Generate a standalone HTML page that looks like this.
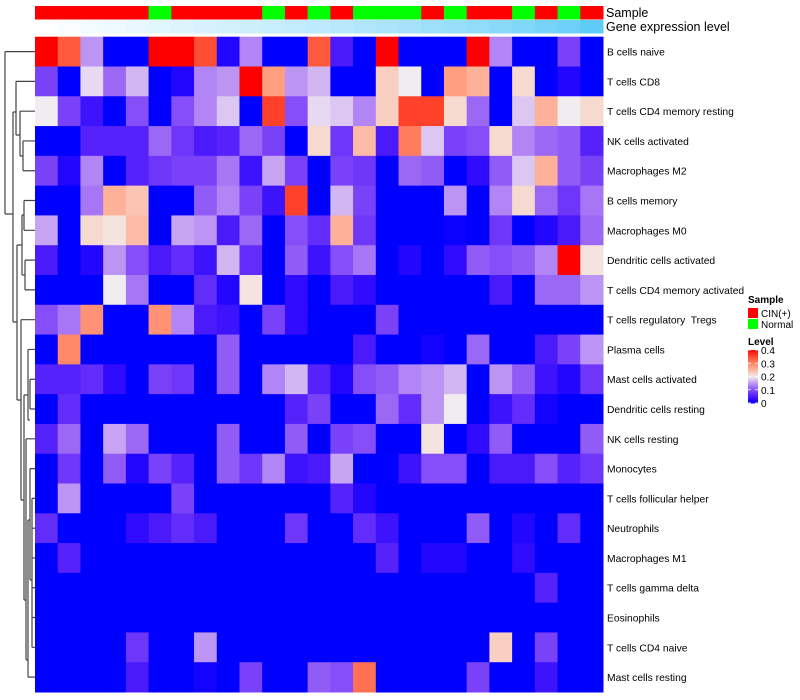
<!DOCTYPE html>
<html><head><meta charset="utf-8"><style>
html,body{margin:0;padding:0;background:#fff;width:800px;height:700px;overflow:hidden}
svg{display:block;font-family:"Liberation Sans",sans-serif}
text{white-space:pre}
</style></head><body>
<svg id="chart" width="800" height="700"></svg>
<script>
const rowLabels=["B cells naive","T cells CD8","T cells CD4 memory resting","NK cells activated","Macrophages M2","B cells memory","Macrophages M0","Dendritic cells activated","T cells CD4 memory activated","T cells regulatory  Tregs","Plasma cells","Mast cells activated","Dendritic cells resting","NK cells resting","Monocytes","T cells follicular helper","Neutrophils","Macrophages M1","T cells gamma delta","Eosinophils","T cells CD4 naive","Mast cells resting"];
const samples=["C","C","C","C","C","N","C","C","C","C","N","C","N","C","N","N","N","C","N","C","C","N","C","N","C"];
const exprLevel=[0.0,0.03,0.07,0.1,0.13,0.16,0.19,0.22,0.25,0.28,0.31,0.34,0.37,0.4,0.43,0.47,0.5,0.54,0.58,0.62,0.66,0.71,0.76,0.82,0.9];
const legendTicks=[0,0.1,0.2,0.3,0.4];
const r1=[.4,.34,.15,0,0,.4,.4,.35,.02,.14,0,0,.34,.05,0,.4,0,0,0,.4,.14,0,0,.09,0];
const r2=[.09,0,.19,.12,.17,0,.02,.14,.15,.4,.28,.15,.17,0,0,.23,.2,0,.28,.26,0,.22,0,.02,0];
const r3=[.2,.09,.04,0,.1,0,.1,.14,.18,0,.36,.1,.19,.18,.14,.23,.36,.36,.22,.12,0,.18,.26,.2,.22];
const r4=[0,0,.06,.06,.06,.12,.08,.05,.06,.12,.09,0,.22,.08,.25,.05,.31,.18,.09,.1,.22,.14,.12,.11,.06];
const r5=[.09,.02,.14,0,.06,.08,.09,.09,.13,.04,.16,.09,0,.09,.08,0,.12,.11,0,.03,.11,.18,.26,.11,.09];
const r6=[0,0,.13,.26,.24,0,0,.11,.14,.09,.04,.36,0,.17,.09,0,0,0,.15,0,.14,.22,.12,.08,.13];
const r7=[.16,0,.22,.21,.25,0,.16,.15,.05,.12,0,.1,.07,.26,.08,0,0,0,.005,0,.08,0,.02,.05,.12];
const r8=[.05,0,.02,.15,.1,.05,.07,.04,.17,.07,0,.11,.04,.1,.13,0,.02,0,.03,.11,.1,.11,.14,.4,.21];
const r9=[0,0,0,.2,.13,0,0,.07,.02,.21,0,.03,0,.05,.03,0,0,0,0,0,.05,0,.12,.12,.15];
const r10=[.1,.13,.29,0,0,.29,.14,.05,.04,0,.09,.03,0,0,0,.09,0,0,0,0,0,0,0,0,0];
const r11=[0,.3,0,0,0,0,0,0,.11,0,0,0,0,0,.05,0,0,.01,0,.12,0,0,.05,.09,.15];
const r12=[.06,.06,.07,.03,0,.09,.08,0,.11,0,.14,.17,.06,.02,.1,.11,.14,.15,.17,0,.15,.11,.04,.02,.08];
const r13=[0,.07,0,0,0,0,0,0,0,0,0,.06,.09,0,0,.12,.07,.15,.2,0,.04,.07,.01,0,0];
const r14=[.06,.12,0,.16,.12,0,0,0,.11,0,0,.11,0,.09,.1,0,0,.21,0,.03,.11,0,0,0,.11];
const r15=[0,.08,0,.11,.02,.09,.06,0,.11,.08,.14,.04,.05,.16,0,0,.04,.1,.1,0,.05,.05,.1,.06,.08];
const r16=[0,.15,0,0,0,0,.09,0,0,0,0,0,0,.06,.02,0,0,0,0,0,0,0,0,0,0];
const r17=[.07,0,0,0,.03,.05,.07,.05,0,0,0,.08,0,0,.07,.04,0,0,0,.11,0,.02,0,.07,0];
const r18=[0,.06,0,0,0,0,0,0,0,0,0,0,0,0,0,.06,0,.02,.02,0,0,.03,0,0,0];
const r19=[0,0,0,0,0,0,0,0,0,0,0,0,0,0,0,0,0,0,0,0,0,0,.06,0,0];
const r20=[0,0,0,0,0,0,0,0,0,0,0,0,0,0,0,0,0,0,0,0,0,0,0,0,0];
const r21=[0,0,0,0,.08,0,0,.15,0,0,0,0,0,0,0,0,0,0,0,0,.23,0,.09,0,0];
const r22=[0,0,0,0,.05,0,0,.01,0,.09,0,0,.11,.1,.32,0,0,0,0,.09,0,0,.04,0,0];
const values=[r1,r2,r3,r4,r5,r6,r7,r8,r9,r10,r11,r12,r13,r14,r15,r16,r17,r18,r19,r20,r21,r22];

const NS="http://www.w3.org/2000/svg";
const svg=document.getElementById('chart');
const X0=35,X1=603,Y0=36.7,Y1=692;
const nC=samples.length,nR=rowLabels.length;
const cw=(X1-X0)/nC,rh=(Y1-Y0)/nR;
const xPos=i=>X0+i*cw, yPos=j=>Y0+j*rh;
function el(t,a){const e=document.createElementNS(NS,t);for(const k in a)e.setAttribute(k,a[k]);svg.appendChild(e);return e;}
function col(v){
  v=Math.max(0,Math.min(0.4,v));
  if(v<=0.2){const t=v/0.2;
    return `rgb(${Math.round(240*Math.pow(t,0.85))},${Math.round(236*Math.pow(t,1.6))},${Math.round(255-15*t)})`;}
  const t=(v-0.2)/0.2;const g=Math.round(236*Math.pow(1-t,0.8));
  return `rgb(${Math.round(Math.min(255,242+40*t))},${g},${Math.round(g*(1-0.45*t))})`;
}
function exCol(v){const a=[255,255,255],b=[76,198,246];return `rgb(${a.map((x,i)=>Math.round(x+(b[i]-x)*v)).join(',')})`;}

samples.forEach((s,i)=>{
  const r=el('rect',{x:xPos(i),y:6,width:cw+0.5,height:13.5,fill:s==='C'?'#ff0000':'#00ff00'});
  
  
});
exprLevel.forEach((v,i)=>{
  const r=el('rect',{x:xPos(i),y:20,width:cw+0.5,height:13.5,fill:exCol(v)});
  
  
});
let t=el('text',{x:606,y:17,'font-size':12.5,fill:'#000'});t.textContent='Sample';

t=el('text',{x:606,y:31,'font-size':12.5,fill:'#000'});t.textContent='Gene expression level';


values.forEach((row,j)=>row.forEach((v,i)=>{
  const r=el('rect',{x:xPos(i),y:yPos(j),width:cw+0.5,height:rh+0.5,fill:col(v)});
  
  
}));
rowLabels.forEach((l,j)=>{
  const tx=el('text',{x:607,y:yPos(j)+rh/2+4,'font-size':10.3,fill:'#000'});
  tx.textContent=l;
  
  
});

const cy=j=>yPos(j)+rh/2;
const segs=[
 [5,cy(0),5,214],[5,cy(0),35,cy(0)],[5,214,13,214],
 [13,112,13,322],[13,112,16,112],
 [16,cy(1),16,135],[16,cy(1),35,cy(1)],[16,135,20,135],
 [20,cy(2),20,156],[20,cy(2),35,cy(2)],[20,156,23,156],
 [23,cy(3),23,cy(4)],[23,cy(3),35,cy(3)],[23,cy(4),35,cy(4)],
 [13,322,17,322],
 [17,245,17,400],[17,245,22,245],
 [22,215,22,275],[22,215,24,215],[24,cy(5),24,cy(6)],[24,cy(5),35,cy(5)],[24,cy(6),35,cy(6)],
 [22,275,25,275],[25,cy(7),25,cy(8)],[25,cy(7),35,cy(7)],[25,cy(8),35,cy(8)],
 [17,400,21,400],
 [21,cy(9),21,500],[21,cy(9),35,cy(9)],[21,500,24,500],
 [24,395,24,600],[24,395,28,395],
 [28,cy(10),28,420],[28,cy(10),35,cy(10)],[28,420,30,420],[30,cy(11),30,cy(12)],[30,cy(11),35,cy(11)],[30,cy(12),35,cy(12)],
 [24,600,26,600],[26,cy(13),26,660],[26,cy(13),35,cy(13)],[26,660,28,660],
 [28,520,28,cy(21)],[28,520,30,520],[28,cy(21),35,cy(21)],
 [30,cy(14),30,580],[30,cy(14),35,cy(14)],[30,580,32,580],
 [32,cy(15),32,cy(20)],[32,cy(15),35,cy(15)],[32,cy(16),35,cy(16)],[32,cy(17),35,cy(17)],[32,cy(18),35,cy(18)],[32,cy(19),35,cy(19)],[32,cy(20),35,cy(20)]
];
let d='';segs.forEach(s=>d+=`M${s[0]},${s[1]}L${s[2]},${s[3]}`);
const p=el('path',{d:d,stroke:'#444',fill:'none','stroke-width':1.2});


t=el('text',{x:748,y:303,'font-size':10,'font-weight':'bold'});t.textContent='Sample';

[['#ff0000','CIN(+)',308],['#00ff00','Normal',319]].forEach(a=>{
  const r=el('rect',{x:748,y:a[2],width:10,height:10,fill:a[0]});
  
  const tt=el('text',{x:761,y:a[2]+9,'font-size':10});tt.textContent=a[1];
  
});
t=el('text',{x:748,y:345,'font-size':10,'font-weight':'bold'});t.textContent='Level';

const ly=v=>403-(v/0.4)*53;
for(let k=0;k<40;k++){
  const v0=k*0.01;
  const r=el('rect',{x:748,y:ly(v0+0.01),width:10,height:53/40+0.5,fill:col(v0+0.005)});
  
}
legendTicks.forEach(v=>{
  el('line',{x1:748,x2:751,y1:ly(v),y2:ly(v),stroke:'#fff','stroke-width':0.8});
  el('line',{x1:755,x2:758,y1:ly(v),y2:ly(v),stroke:'#fff','stroke-width':0.8});
  const tt=el('text',{x:761,y:ly(v)+4,'font-size':10});tt.textContent=String(v);
  
});
</script>
</body></html>
